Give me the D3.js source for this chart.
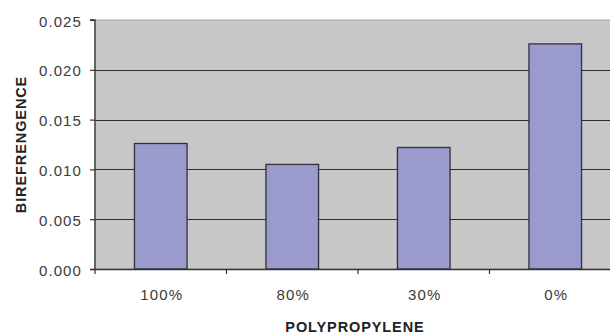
<!DOCTYPE html>
<html>
<head>
<meta charset="utf-8">
<script src="https://cdn.jsdelivr.net/npm/d3@7"></script>
<style>
  html, body { margin: 0; padding: 0; background: #fff; }
  svg { display: block; }
</style>
</head>
<body>
<svg id="chart" width="610" height="334"></svg>
<script>
// Birefringence by polypropylene content
const categories = ["100%", "80%", "30%", "0%"];
const birefringence = [0.0126, 0.0105, 0.0122, 0.0226];
const yTicks = [0, 0.005, 0.010, 0.015, 0.020, 0.025];

const svg = d3.select("#chart");
const plot = { left: 95, right: 621, top: 20, bottom: 269 };
const font = "'Liberation Sans', Arial, sans-serif";

const x = d3.scaleBand()
  .domain(categories)
  .range([plot.left, plot.right])
  .paddingInner(0.6)
  .paddingOuter(0.3);

const y = d3.scaleLinear()
  .domain([0, 0.025])
  .range([plot.bottom, plot.top]);

// plot background
svg.append("rect")
  .attr("x", plot.left)
  .attr("y", plot.top)
  .attr("width", plot.right - plot.left)
  .attr("height", plot.bottom - plot.top)
  .attr("fill", "#c7c7c7")
  .attr("stroke", "#a8a8a8")
  .attr("stroke-width", 1);

// horizontal gridlines
svg.append("g")
  .selectAll("line")
  .data(yTicks.filter(t => t > 0 && t < 0.025))
  .join("line")
  .attr("x1", plot.left)
  .attr("x2", plot.right)
  .attr("y1", d => Math.round(y(d)) + 0.5)
  .attr("y2", d => Math.round(y(d)) + 0.5)
  .attr("stroke", "#2e2e2e")
  .attr("stroke-width", 1.2);

// bars
svg.append("g")
  .selectAll("rect")
  .data(categories.map((c, i) => ({ c, v: birefringence[i] })))
  .join("rect")
  .attr("x", d => x(d.c))
  .attr("y", d => y(d.v))
  .attr("width", x.bandwidth())
  .attr("height", d => y(0) - y(d.v))
  .attr("fill", "#9a9acd")
  .attr("stroke", "#303040")
  .attr("stroke-width", 1.3);

// y axis
const yAxis = d3.axisLeft(y)
  .tickValues(yTicks)
  .tickFormat(d3.format(".3f"))
  .tickSize(5)
  .tickPadding(8);

const gy = svg.append("g")
  .attr("transform", `translate(${plot.left},0)`)
  .call(yAxis);
gy.select(".domain").attr("stroke", "#333").attr("stroke-width", 1.3).attr("d", `M-5,${plot.top}H0V${plot.bottom}`);
gy.selectAll(".tick line").attr("stroke", "#333").attr("stroke-width", 1.2);
gy.selectAll(".tick text")
  .attr("fill", "#3a3a3a")
  .attr("dy", "0.4em")
  .style("font-family", font)
  .style("font-size", "15px")
  .style("letter-spacing", "1.1px");

// x axis: ticks sit on category boundaries
const gx = svg.append("g")
  .attr("transform", `translate(0,${plot.bottom})`);
gx.append("line")
  .attr("x1", plot.left - 5)
  .attr("x2", plot.right)
  .attr("y1", 0.5).attr("y2", 0.5)
  .attr("stroke", "#333")
  .attr("stroke-width", 1.3);
const step = x.step();
const boundaries = categories.map(c => x(c) - (step - x.bandwidth()) / 2);
gx.selectAll("line.tk")
  .data(boundaries)
  .join("line")
  .attr("class", "tk")
  .attr("x1", d => d).attr("x2", d => d)
  .attr("y1", 0).attr("y2", 5)
  .attr("stroke", "#333")
  .attr("stroke-width", 1.2);
gx.selectAll("text")
  .data(categories)
  .join("text")
  .attr("x", d => x(d) + x.bandwidth() / 2 + 1)
  .attr("y", 31)
  .attr("text-anchor", "middle")
  .attr("fill", "#3a3a3a")
  .style("font-family", font)
  .style("font-size", "15px")
  .style("letter-spacing", "1.1px")
  .text(d => d);

// axis titles
svg.append("text")
  .attr("x", (plot.left + plot.right) / 2 - 3)
  .attr("y", 332)
  .attr("text-anchor", "middle")
  .attr("fill", "#222")
  .style("font-family", font)
  .style("font-weight", "bold")
  .style("font-size", "14.5px")
  .style("letter-spacing", "0.9px")
  .text("POLYPROPYLENE");

svg.append("text")
  .attr("transform", `translate(26,${(plot.top + plot.bottom) / 2}) rotate(-90)`)
  .attr("text-anchor", "middle")
  .attr("fill", "#222")
  .style("font-family", font)
  .style("font-weight", "bold")
  .style("font-size", "14.5px")
  .style("letter-spacing", "0.9px")
  .text("BIREFRENGENCE");
</script>
</body>
</html>
